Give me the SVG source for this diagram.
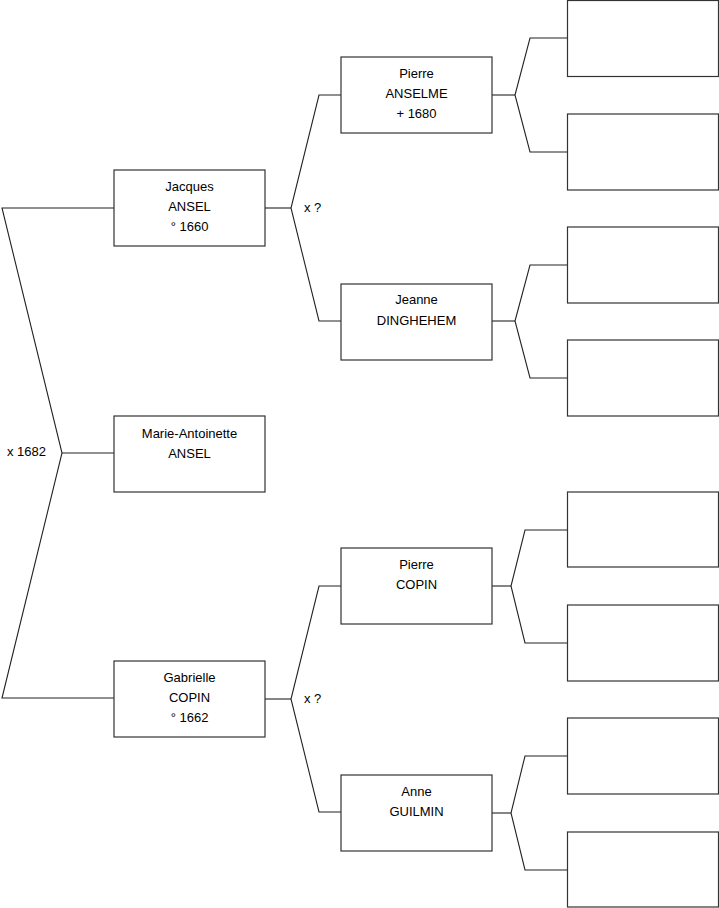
<svg xmlns="http://www.w3.org/2000/svg" width="719" height="908" viewBox="0 0 719 908">
<style>
.box{fill:#fff;stroke:#333;stroke-width:1.2}
.ln{fill:none;stroke:#222;stroke-width:1.1}
text{font-family:"Liberation Sans",Arial,sans-serif;font-size:13px;fill:#000}
.c{text-anchor:middle}
</style>
<rect width="719" height="908" fill="#fff"/>
<g id="connectors">
<polyline class="ln" points="114,208 2,208 62,453 2,698 114,698"/>
<line class="ln" x1="62" y1="453" x2="114" y2="453"/>
<polyline class="ln" points="265,208 291,208"/>
<polyline class="ln" points="341,95 319,95 291,208 319,321 341,321"/>
<polyline class="ln" points="265,699 291,699"/>
<polyline class="ln" points="341,586 319,586 291,699 319,812 341,812"/>
<polyline class="ln" points="492,95 515,95"/>
<polyline class="ln" points="567,38 530,38 515,95 530,152 567,152"/>
<polyline class="ln" points="492,321 515,321"/>
<polyline class="ln" points="567,265 530,265 515,321 530,378 567,378"/>
<polyline class="ln" points="492,586 511,586"/>
<polyline class="ln" points="567,530 525,530 511,586 525,643 567,643"/>
<polyline class="ln" points="492,813 511,813"/>
<polyline class="ln" points="567,756 525,756 511,813 525,870 567,870"/>
<text x="7" y="456">x 1682</text>
<text x="304" y="212">x ?</text>
<text x="304" y="703">x ?</text>
</g>
<g id="jacques"><rect class="box" x="114" y="170" width="151" height="76"/>
<text class="c" x="189.5" y="191">Jacques</text><text class="c" x="189.5" y="211">ANSEL</text><text class="c" x="189.5" y="231">° 1660</text></g>
<g id="marie"><rect class="box" x="114" y="416" width="151" height="76"/>
<text class="c" x="189.5" y="438">Marie-Antoinette</text><text class="c" x="189.5" y="458">ANSEL</text></g>
<g id="gabrielle"><rect class="box" x="114" y="661" width="151" height="76"/>
<text class="c" x="189.5" y="682">Gabrielle</text><text class="c" x="189.5" y="702">COPIN</text><text class="c" x="189.5" y="722">° 1662</text></g>
<g id="pierre-anselme"><rect class="box" x="341" y="57" width="151" height="76"/>
<text class="c" x="416.5" y="78">Pierre</text><text class="c" x="416.5" y="98">ANSELME</text><text class="c" x="416.5" y="118">+ 1680</text></g>
<g id="jeanne"><rect class="box" x="341" y="284" width="151" height="76"/>
<text class="c" x="416.5" y="304">Jeanne</text><text class="c" x="416.5" y="325">DINGHEHEM</text></g>
<g id="pierre-copin"><rect class="box" x="341" y="548" width="151" height="76"/>
<text class="c" x="416.5" y="569">Pierre</text><text class="c" x="416.5" y="589">COPIN</text></g>
<g id="anne"><rect class="box" x="341" y="775" width="151" height="76"/>
<text class="c" x="416.5" y="796">Anne</text><text class="c" x="416.5" y="816">GUILMIN</text></g>
<g id="g3-1"><rect class="box" x="567.5" y="0.5" width="151" height="76"/></g>
<g id="g3-2"><rect class="box" x="567.5" y="114" width="151" height="76"/></g>
<g id="g3-3"><rect class="box" x="567.5" y="227" width="151" height="76"/></g>
<g id="g3-4"><rect class="box" x="567.5" y="340" width="151" height="76"/></g>
<g id="g3-5"><rect class="box" x="567.5" y="492" width="151" height="75"/></g>
<g id="g3-6"><rect class="box" x="567.5" y="605" width="151" height="76"/></g>
<g id="g3-7"><rect class="box" x="567.5" y="718" width="151" height="76"/></g>
<g id="g3-8"><rect class="box" x="567.5" y="832" width="151" height="75"/></g>
</svg>
